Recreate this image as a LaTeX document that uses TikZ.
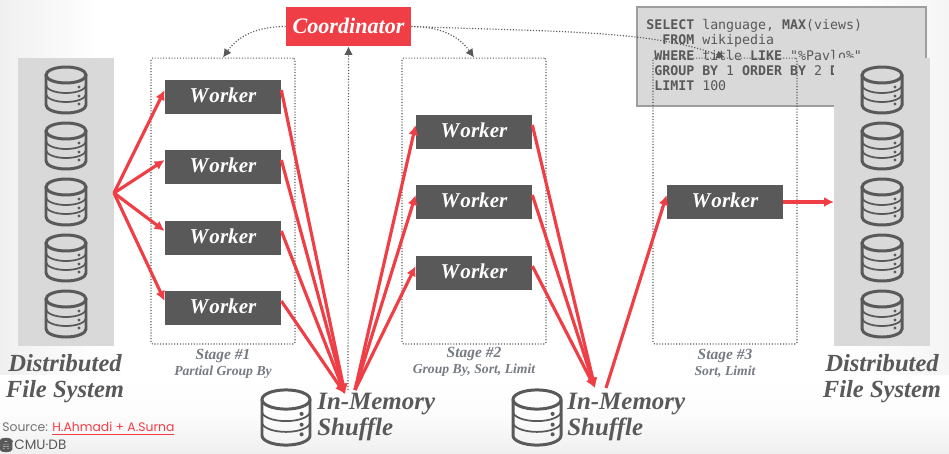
\documentclass[tikz,border=0pt]{standalone}
\usepackage{fontspec}
\setmainfont{Liberation Serif}
\setmonofont{DejaVu Sans Mono}
\newfontfamily\sourceFont{Poppins}
\usetikzlibrary{positioning,arrows.meta}
\definecolor{slideRed}{RGB}{239,62,69}
\definecolor{darkGray}{RGB}{89,89,89}
\definecolor{panelGray}{RGB}{217,217,217}
\definecolor{stageGray}{RGB}{118,122,130}
\tikzstyle{slide} = [x = .02cm, y = -.02cm]
\tikzstyle{panelStyle} = [fill=panelGray]
\tikzstyle{workerStyle} = [fill=darkGray, text=white, minimum width=2.32cm, minimum height=.68cm, inner sep=0pt, font=\fontsize{12}{12}\selectfont\bfseries\itshape]
\tikzstyle{stageStyle} = [draw=darkGray, densely dotted, line width=.6pt, rounded corners=.03cm, minimum width=2.88cm, minimum height=5.72cm, inner sep=0pt]
\tikzstyle{stageTitle} = [text=stageGray, inner sep=0pt, font=\fontsize{8.8}{8.8}\selectfont\bfseries\itshape]
\tikzstyle{stageNote} = [text=stageGray, inner sep=0pt, font=\fontsize{7.8}{7.8}\selectfont\bfseries\itshape]
\tikzstyle{bigLabel} = [text=darkGray, inner sep=0pt, align=center, font=\fontsize{14}{14.8}\selectfont\bfseries\itshape]
\tikzstyle{shuffleLabel} = [text=darkGray, inner sep=0pt, align=left, anchor=north west, font=\fontsize{14.2}{14.8}\selectfont\bfseries\itshape]
\tikzstyle{redArrow} = [draw=slideRed, line width=1.8pt, -{Latex[length=.2cm, width=.2cm]}]
\tikzstyle{callArrow} = [draw=darkGray, densely dotted, line width=.65pt, -{Latex[length=.17cm, width=.17cm]}]
\newcommand{\dbIcon}[3]{
  \begin{scope}[shift={(#1,#2)}, scale=#3, draw=darkGray]
    \draw [line width=1.7pt] (0,-15) ellipse [x radius=20, y radius=8];
    \draw [line width=1.7pt] (-20,-15) -- (-20,15) arc [start angle=180, end angle=0, x radius=20, y radius=8] -- (20,-15);
    \draw [line width=1pt] (-20,-5) arc [start angle=180, end angle=0, x radius=20, y radius=8];
    \draw [line width=1pt] (-20,4) arc [start angle=180, end angle=0, x radius=20, y radius=8];
    \foreach \dotY in {-3,6,14} {
      \fill [darkGray] (13,\dotY) circle [radius=1.7];
    }
  \end{scope}
}
\newcommand{\workerNode}[3]{\node [workerStyle] (#1) at (#2,#3) {\raisebox{.06cm}{W\kern.05em orker}};}
\begin{document}
\begin{tikzpicture}[slide]
  \useasboundingbox (0,0) rectangle (949,453);
  % slide background
  \shade [left color=black!6, right color=white] (0,0) rectangle (100,453);
  \shade [left color=white, right color=black!4] (849,0) rectangle (949,453);
  \shade [top color=white, bottom color=black!6, middle color=black!1] (0,375) rectangle (949,453);

  % query
  \node [fill=panelGray, draw=black!38, line width=.9pt, minimum width=5.78cm, minimum height=1.98cm, anchor=north west, inner sep=0pt] (queryBox) at (636,6) {};
  \node [anchor=north west, inner sep=0pt, align=left, text=darkGray, font=\fontsize{7.55}{8.7}\selectfont\ttfamily] (queryText) at (646,19) {\textbf{SELECT} language, \textbf{MAX}(views)\\\ \ \textbf{FROM} wikipedia\\\ \textbf{WHERE} title \textbf{LIKE} "\%Pavlo\%"\\\ \textbf{GROUP BY} 1 \textbf{ORDER BY} 2 \textbf{DESC}\\\ \textbf{LIMIT} 100};

  % file systems
  \fill [panelStyle] (18,58) rectangle (114,346);
  \fill [panelStyle] (834,58) rectangle (930,346);
  \foreach \rowY in {90,146,202,258,314} {
    \dbIcon{66}{\rowY}{1}
    \dbIcon{882}{\rowY}{1}
  }

  % stages
  \node [stageStyle] (stageOne) at (223,201) {};
  \node [stageStyle] (stageTwo) at (474,201) {};
  \node [stageStyle] (stageThree) at (725,201) {};

  \node [stageTitle] (stageOneTitle) at (223,356) {Stage \#1};
  \node [stageNote] (stageOneNote) at (223,372) {Partial Group By};
  \node [stageTitle] (stageTwoTitle) at (474,354) {Stage \#2};
  \node [stageNote] (stageTwoNote) at (474,370) {Group By, Sort, Limit};
  \node [stageTitle] (stageThreeTitle) at (725,356) {Stage \#3};
  \node [stageNote] (stageThreeNote) at (725,372) {Sort, Limit};

  \workerNode{workerA}{223}{97}
  \workerNode{workerB}{223}{167}
  \workerNode{workerC}{223}{238}
  \workerNode{workerD}{223}{308}
  \workerNode{workerE}{474}{132}
  \workerNode{workerF}{474}{202}
  \workerNode{workerG}{474}{273}
  \workerNode{workerH}{725}{202}

  \node [fill=slideRed, text=white, minimum width=2.5cm, minimum height=.78cm, inner sep=0pt, font=\fontsize{12.6}{12.6}\selectfont\bfseries\itshape] (coordinator) at (348.5,26.5) {\raisebox{.02cm}{Coordinator}};

  % labels
  \node [bigLabel] (dfsLeft) at (65,379) {Distributed\\File System};
  \node [bigLabel] (dfsRight) at (882,379) {Distributed\\File System};
  \dbIcon{286}{417.5}{1.2}
  \dbIcon{537}{417.5}{1.2}
  \node [shuffleLabel] (shuffleOne) at (317,393) {In-Memory\\Shuffle};
  \node [shuffleLabel] (shuffleTwo) at (567,393) {In-Memory\\Shuffle};

  % hub points
  \coordinate (dfsOut) at (114,193);
  \coordinate (shuffleOneIn) at (345,394);
  \coordinate (shuffleOneOut) at (355,390);
  \coordinate (shuffleOneUp) at (348,390);
  \coordinate (shuffleTwoIn) at (595,388);
  \coordinate (shuffleTwoOut) at (606,388);
  \coordinate (dfsRightIn) at (834,202);

  % data flow
  \foreach \worker in {workerA,workerB,workerC,workerD} {
    \draw [redArrow] (dfsOut) -- ([yshift=.14cm]\worker.west);
    \draw [redArrow] ([yshift=.14cm]\worker.east) -- (shuffleOneIn);
  }
  \foreach \worker in {workerE,workerF,workerG} {
    \draw [redArrow] (shuffleOneOut) -- ([yshift=.14cm]\worker.west);
    \draw [redArrow] ([yshift=.14cm]\worker.east) -- (shuffleTwoIn);
  }
  \draw [redArrow] (shuffleTwoOut) -- ([yshift=.14cm]workerH.west);
  \draw [redArrow] (workerH.east) -- (dfsRightIn);

  % coordination
  \draw [callArrow] (coordinator.west) to [out=180, in=55] (stageOne.north);
  \draw [callArrow] (coordinator.east) to [out=0, in=125] (stageTwo.north);
  \draw [callArrow] (shuffleOneUp) -- (coordinator.south);
  \draw [callArrow] (coordinator.east) .. controls (560,32) and (650,30) .. (stageThree.north);

  % footer
  \node [anchor=west, inner sep=0pt, text=darkGray!85, font=\fontsize{7.05}{7.05}\selectfont\sourceFont] (sourceNote) at (2,428.5) {Source: \textcolor{slideRed}{\underline{H.Ahmadi + A.Surna}}};
  \dbIcon{6}{445}{.25}
  \node [anchor=west, inner sep=0pt, text=darkGray, font=\fontsize{7.7}{7.7}\selectfont\sourceFont] (cmuLabel) at (14,445) {CMU·DB};
\end{tikzpicture}
\end{document}
